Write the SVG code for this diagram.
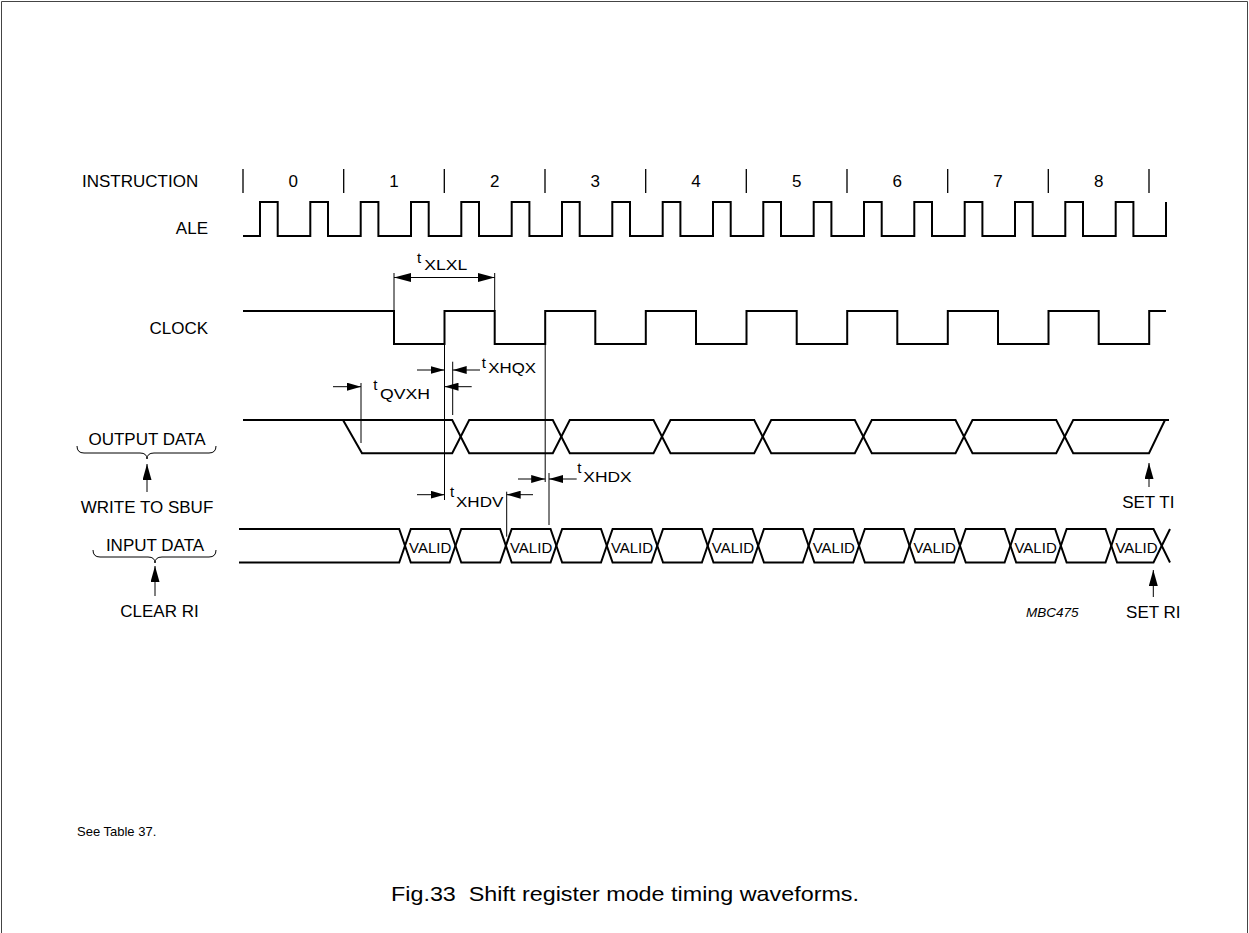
<svg xmlns="http://www.w3.org/2000/svg" width="1249" height="933" viewBox="0 0 1249 933">
<style>
text{font-family:"Liberation Sans",Arial,Helvetica,sans-serif;fill:#000}
.l{font-size:17px}
.t{font-size:15px}
.s{font-size:14.5px}
.v{font-size:15px;text-anchor:middle}
.m{text-anchor:middle}
.e{text-anchor:end}
.w{fill:none;stroke:#000;stroke-width:2;stroke-linejoin:miter}
.th{fill:none;stroke:#000;stroke-width:1}
.tk{fill:none;stroke:#000;stroke-width:1.3}
</style>
<defs>
<marker id="a" viewBox="0 0 14 8" refX="14" refY="4" markerWidth="14" markerHeight="8" markerUnits="userSpaceOnUse" orient="auto-start-reverse"><path d="M0,0 L14,4 L0,8 z" fill="#000"/></marker>
<marker id="b" viewBox="0 0 17 9" refX="17" refY="4.5" markerWidth="17" markerHeight="9" markerUnits="userSpaceOnUse" orient="auto-start-reverse"><path d="M0,0 L17,4.5 L0,9 z" fill="#000"/></marker>
<marker id="u" viewBox="0 0 16 9" refX="16" refY="4.5" markerWidth="16" markerHeight="9" markerUnits="userSpaceOnUse" orient="auto"><path d="M0,0 L16,4.5 L0,9 z" fill="#000"/></marker>
</defs>
<rect width="1249" height="933" fill="#fff"/>
<path id="frame" d="M1.5,933 V1.5 H1247.5 V933" fill="none" stroke="#444" stroke-width="1"/>

<g id="labels">
<text class="l" x="82" y="187">INSTRUCTION</text>
<text class="l e" x="208" y="234">ALE</text>
<text class="l e" x="208" y="334">CLOCK</text>
<text class="l m" x="147" y="445">OUTPUT DATA</text>
<text class="l m" x="147" y="513">WRITE TO SBUF</text>
<text class="l m" x="155" y="551">INPUT DATA</text>
<text class="l m" x="159.5" y="617">CLEAR RI</text>
<text class="l m" x="1148.3" y="507.5">SET TI</text>
<text class="l m" x="1153.3" y="618">SET RI</text>
<text x="1026" y="616.5" style="font-size:13.5px;font-style:italic">MBC475</text>
<text x="77" y="836" style="font-size:13px">See Table 37.</text>
<text x="625" y="901" class="m" style="font-size:21px;white-space:pre" xml:space="preserve" textLength="468" lengthAdjust="spacingAndGlyphs">Fig.33  Shift register mode timing waveforms.</text>
<path class="th" d="M77,446 Q77,453 84,453 H140 Q147,453 147,459 Q147,453 154,453 H209 Q216,453 216,446"/>
<path class="th" d="M93,550 Q93,557 100,557 H148 Q155,557 155,563 Q155,557 162,557 H209 Q216,557 216,550"/>
</g>

<g id="instruction">
<path class="tk" d="M243,169 V193 M343.7,169 V193 M444.3,169 V193 M545,169 V193 M645.7,169 V193 M746.3,169 V193 M847,169 V193 M947.7,169 V193 M1048.3,169 V193 M1149,169 V193"/>
<text class="l m" x="293.3" y="187">0</text>
<text class="l m" x="394" y="187">1</text>
<text class="l m" x="494.7" y="187">2</text>
<text class="l m" x="595.3" y="187">3</text>
<text class="l m" x="696" y="187">4</text>
<text class="l m" x="796.7" y="187">5</text>
<text class="l m" x="897.3" y="187">6</text>
<text class="l m" x="998" y="187">7</text>
<text class="l m" x="1098.7" y="187">8</text>
</g>

<g id="ale">
<path class="w" d="M243,236 H260 V202 H277.7 V236 H310.3 V202 H328 V236 H360.7 V202 H378.4 V236 H411 V202 H428.7 V236 H461.3 V202 H479 V236 H511.7 V202 H529.4 V236 H562 V202 H579.7 V236 H612.3 V202 H630 V236 H662.7 V202 H680.4 V236 H713 V202 H730.7 V236 H763.3 V202 H781 V236 H813.7 V202 H831.4 V236 H864 V202 H881.7 V236 H914.3 V202 H932 V236 H964.7 V202 H982.4 V236 H1015 V202 H1032.7 V236 H1065.3 V202 H1083 V236 H1115.7 V202 H1133.4 V236 H1166 V202"/>
</g>

<g id="clock">
<path class="w" d="M243,311 H394 V344 H444.5 V311 H494.7 V344 H545.2 V311 H595.3 V344 H645.8 V311 H696 V344 H746.5 V311 H796.7 V344 H847.2 V311 H897.3 V344 H947.8 V311 H998 V344 H1048.5 V311 H1098.7 V344 H1149.2 V311 H1166"/>
</g>

<g id="output-data">
<path class="w" d="M243,420 H452.2 L469.2,453.3 H552.8 L569.8,420 H653.5 L670.5,453.3 H754.2 L771.2,420 H854.8 L871.8,453.3 H955.5 L972.5,420 H1056.2 L1073.2,453.3 H1149 L1165,420"/>
<path class="w" d="M343,420 L362,453.3 H452.2 L469.2,420 H552.8 L569.8,453.3 H653.5 L670.5,420 H754.2 L771.2,453.3 H854.8 L871.8,420 H955.5 L972.5,453.3 H1056.2 L1073.2,420 H1169"/>
</g>

<g id="input-data">
<path class="w" d="M239,529 H399.2 L410.8,562.5 H449.65 L461.25,529 H500.1 L511.7,562.5 H550.55 L562.15,529 H601 L612.6,562.5 H651.45 L663.05,529 H701.9 L713.5,562.5 H752.35 L763.95,529 H802.8 L814.4,562.5 H853.25 L864.85,529 H903.7 L915.3,562.5 H954.15 L965.75,529 H1004.6 L1016.2,562.5 H1055.05 L1066.65,529 H1105.5 L1117.1,562.5 H1153.5 L1170,529"/>
<path class="w" d="M239,562.5 H399.2 L410.8,529 H449.65 L461.25,562.5 H500.1 L511.7,529 H550.55 L562.15,562.5 H601 L612.6,529 H651.45 L663.05,562.5 H701.9 L713.5,529 H752.35 L763.95,562.5 H802.8 L814.4,529 H853.25 L864.85,562.5 H903.7 L915.3,529 H954.15 L965.75,562.5 H1004.6 L1016.2,529 H1055.05 L1066.65,562.5 H1105.5 L1117.1,529 H1153.5 L1170,562.5"/>
<text class="v" x="430.2" y="552.5">VALID</text>
<text class="v" x="531.1" y="552.5">VALID</text>
<text class="v" x="632" y="552.5">VALID</text>
<text class="v" x="732.9" y="552.5">VALID</text>
<text class="v" x="833.8" y="552.5">VALID</text>
<text class="v" x="934.7" y="552.5">VALID</text>
<text class="v" x="1035.6" y="552.5">VALID</text>
<text class="v" x="1136.5" y="552.5">VALID</text>
</g>

<g id="connectors">
<path class="th" d="M394,273 V311 M494.7,273 V311 M444.5,344 V500 M452.7,361.7 V415 M361,383 V443 M545.2,344 V482 M549,473 V525 M506.7,491.7 V536.7"/>
<line class="th" x1="394" y1="277.5" x2="494.7" y2="277.5" marker-start="url(#b)" marker-end="url(#b)"/>
<line class="th" x1="417" y1="370" x2="444.5" y2="370" marker-end="url(#a)"/>
<line class="th" x1="480" y1="370" x2="452.7" y2="370" marker-end="url(#a)"/>
<line class="th" x1="333" y1="386.7" x2="361" y2="386.7" marker-end="url(#a)"/>
<line class="th" x1="471.7" y1="386.7" x2="444.5" y2="386.7" marker-end="url(#a)"/>
<line class="th" x1="518" y1="479" x2="545.2" y2="479" marker-end="url(#a)"/>
<line class="th" x1="576.7" y1="479" x2="549" y2="479" marker-end="url(#a)"/>
<line class="th" x1="417" y1="494.7" x2="444.5" y2="494.7" marker-end="url(#a)"/>
<line class="th" x1="533" y1="494.7" x2="506.7" y2="494.7" marker-end="url(#a)"/>
<line class="th" x1="147" y1="492" x2="147" y2="464" marker-end="url(#u)"/>
<line class="th" x1="155" y1="596" x2="155" y2="566" marker-end="url(#u)"/>
<line class="th" x1="1149" y1="487" x2="1149" y2="463" marker-end="url(#u)"/>
<line class="th" x1="1153.3" y1="597" x2="1153.3" y2="570" marker-end="url(#u)"/>
<text class="t" x="417" y="263.3">t</text><text class="s" x="424.3" y="270" textLength="43" lengthAdjust="spacingAndGlyphs">XLXL</text>
<text class="t" x="481.7" y="368.3">t</text><text class="s" x="488.3" y="373.3" textLength="47.7" lengthAdjust="spacingAndGlyphs">XHQX</text>
<text class="t" x="373.3" y="390">t</text><text class="s" x="380" y="399" textLength="50" lengthAdjust="spacingAndGlyphs">QVXH</text>
<text class="t" x="577.3" y="473.3">t</text><text class="s" x="583.3" y="481.7" textLength="48.4" lengthAdjust="spacingAndGlyphs">XHDX</text>
<text class="t" x="450" y="497.3">t</text><text class="s" x="456" y="506.7" textLength="47.3" lengthAdjust="spacingAndGlyphs">XHDV</text>
</g>
</svg>
